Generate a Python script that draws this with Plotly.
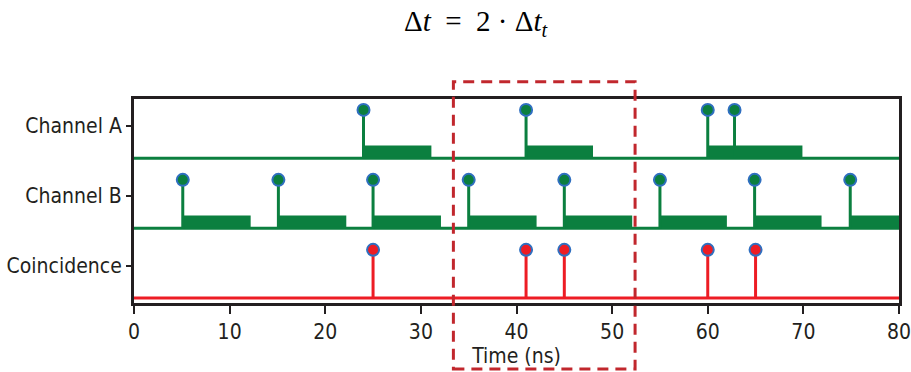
import plotly.graph_objects as go

# ---- data ----
row_labels = ["Channel A", "Channel B", "Coincidence"]
row_levels = [2, 1, 0]

chA_events = [24.0, 41.0, 60.0, 62.8]
chA_box_start = [24.0, 41.0, 60.0]
chA_box_end = [31.1, 48.0, 69.9]

chB_events = [5.1, 15.1, 25.0, 35.0, 45.0, 55.0, 64.9, 74.9]
chB_box_start = [5.1, 15.1, 25.0, 35.0, 45.0, 55.0, 64.9, 74.9]
chB_box_end = [12.2, 22.2, 32.1, 42.1, 52.1, 62.0, 71.9, 82.0]

coinc_events = [25.0, 41.0, 45.0, 60.0, 65.0]

window_start, window_end = 33.4, 52.4
x_ticks = [0, 10, 20, 30, 40, 50, 60, 70, 80]

# ---- styling ----
GREEN = "#0b7f3f"
RED = "#ed1c24"
BLUE = "#2f6fc0"
FRAME = "#231f20"
BASE_OFF = -0.46
BOX_OFF = -0.28
MARK_OFF = 0.23
FONT = "DejaVu Sans Condensed, Liberation Sans Narrow, sans-serif"

fig = go.Figure()


def add_channel(level, events, color, box_start=None, box_end=None):
    base = level + BASE_OFF
    if box_start:
        bx, by = [], []
        for s, e in zip(box_start, box_end):
            bx += [s, e, e, s, s, None]
            by += [base, base, level + BOX_OFF, level + BOX_OFF, base, None]
        fig.add_trace(go.Scatter(x=bx, y=by, mode="lines", fill="toself",
                                 fillcolor=color, line=dict(width=0, color=color),
                                 hoverinfo="skip", showlegend=False))
    fig.add_trace(go.Scatter(x=[x_ticks[0], x_ticks[-1]], y=[base, base], mode="lines",
                             line=dict(color=color, width=3), hoverinfo="skip",
                             showlegend=False))
    sx, sy = [], []
    for ev in events:
        sx += [ev, ev, None]
        sy += [base, level + MARK_OFF, None]
    fig.add_trace(go.Scatter(x=sx, y=sy, mode="lines", line=dict(color=color, width=3),
                             hoverinfo="skip", showlegend=False))
    fig.add_trace(go.Scatter(x=events, y=[level + MARK_OFF] * len(events), mode="markers",
                             marker=dict(size=12, color=color, line=dict(color=BLUE, width=2)),
                             cliponaxis=False, showlegend=False))


add_channel(row_levels[0], chA_events, GREEN, chA_box_start, chA_box_end)
add_channel(row_levels[1], chB_events, GREEN, chB_box_start, chB_box_end)
add_channel(row_levels[2], coinc_events, RED)

fig.add_shape(type="rect", xref="x", yref="paper", x0=window_start, x1=window_end,
              y0=-0.324, y1=1.085, line=dict(color="#c1272d", width=3, dash="11px,7px"),
              fillcolor="rgba(0,0,0,0)", layer="above")

fig.update_layout(
    width=911, height=372,
    margin=dict(l=134, r=12, t=99, b=69),
    paper_bgcolor="white", plot_bgcolor="white",
    font=dict(family=FONT, size=21, color=FRAME),
    title=dict(text="Δ<i>t</i>&nbsp;&nbsp;=&nbsp;&nbsp;2&nbsp;·&nbsp;Δ<i>t</i><sub><i>t</i></sub>",
               font=dict(family="Liberation Serif, DejaVu Serif, serif", size=29, color="black"),
               x=0.522, xanchor="center", xref="container",
               y=0.945, yanchor="middle", yref="container"),
    xaxis=dict(range=[0, 80], tickvals=x_ticks, ticks="outside", ticklen=8, tickwidth=2,
               tickcolor=FRAME, showline=True, linecolor=FRAME, linewidth=3, mirror=True,
               showgrid=False, zeroline=False, automargin=False, ticklabeloverflow="allow",
               title=dict(text="Time (ns)", standoff=6, font=dict(size=21))),
    yaxis=dict(range=[-0.53, 2.386], tickvals=row_levels, ticktext=row_labels,
               ticks="outside", ticklen=5, tickwidth=1.5, tickcolor=FRAME,
               showline=True, linecolor=FRAME, linewidth=3, mirror=True,
               showgrid=False, zeroline=False, fixedrange=True, automargin=False),
)

fig.write_html("out.html", config={"displayModeBar": False},
               post_script="document.body.style.margin='0';document.body.style.overflow='hidden';")
